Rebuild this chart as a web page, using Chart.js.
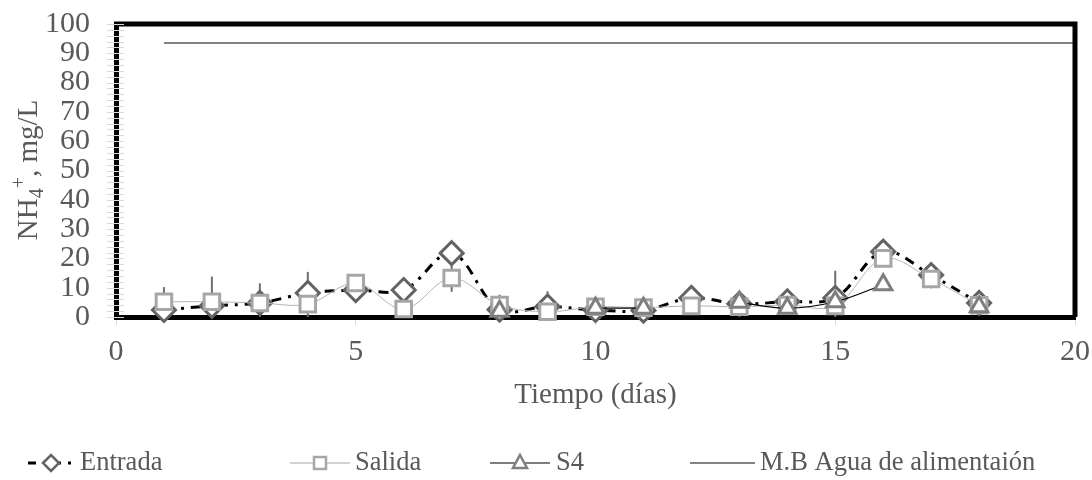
<!DOCTYPE html>
<html>
<head>
<meta charset="utf-8">
<script src="https://cdn.jsdelivr.net/npm/chart.js@4"></script>
<style>
  html, body { margin: 0; padding: 0; background: #fff; }
  #wrap { width: 1092px; height: 480px; }
</style>
</head>
<body>
<div id="wrap"><canvas id="nhChart" width="1092" height="480"></canvas></div>
<script>
// values (days 1..18)
const days = [1, 2, 3, 4, 5, 6, 7, 8, 9, 10, 11, 12, 13, 14, 15, 16, 17, 18];
const entrada = [2.4, 3.8, 4.8, 8.2, 9.2, 9.2, 21.8, 2.5, 3.6, 2.4, 2.2, 6.5, 4.5, 5.3, 6.5, 22.3, 14.3, 4.8];
const salida = [5.2, 5.2, 4.8, 4.4, 11.6, 2.7, 13.3, 4.1, 1.8, 3.5, 3.2, 3.8, 3.5, 4.1, 3.8, 20, 13, 4];
const salidaErr = [5, 8.6, 6.7, 11, null, null, 4.7, 3.5, 7, null, null, null, null, null, 12, null, null, null];
const s4 = [null, null, null, null, null, null, null, 2, null, 3, 3, null, 5, 3, 5.2, 11, null, 3.5];
const mbDays = [1, 20];
const mbValues = [93.5, 93.5];

const FONT = "'Liberation Serif', 'Times New Roman', serif";
const TEXT = '#595959';

function pts(xs, ys) {
    return xs.map((d, i) => ({ x: d, y: ys[i] }));
}

// small legend symbols
function legendMarker(ctx, type, cx, cy) {
    ctx.save();
    ctx.fillStyle = '#fff';
    ctx.lineWidth = 2.5;
    ctx.beginPath();
    if (type === 'diamond') {
        ctx.strokeStyle = '#636363';
        ctx.moveTo(cx - 8, cy); ctx.lineTo(cx, cy - 8); ctx.lineTo(cx + 8, cy); ctx.lineTo(cx, cy + 8);
    } else if (type === 'square') {
        ctx.strokeStyle = '#a6a6a6';
        ctx.rect(cx - 6, cy - 6, 12, 12);
    } else if (type === 'triangle') {
        ctx.strokeStyle = '#7f7f7f';
        ctx.moveTo(cx, cy - 8); ctx.lineTo(cx + 7, cy + 5); ctx.lineTo(cx - 7, cy + 5);
    }
    ctx.closePath();
    ctx.fill();
    ctx.stroke();
    ctx.restore();
}

const excelLook = {
    id: 'excelLook',
    beforeDatasetsDraw(chart) {
        // error bars on Salida, drawn under the markers
        const { ctx, scales: { x, y } } = chart;
        ctx.save();
        ctx.strokeStyle = '#6f6f6f';
        ctx.lineWidth = 2;
        days.forEach((d, i) => {
            const e = salidaErr[i];
            if (e == null) return;
            const px = x.getPixelForValue(d);
            ctx.beginPath();
            ctx.moveTo(px, y.getPixelForValue(salida[i] + e));
            ctx.lineTo(px, y.getPixelForValue(Math.max(0, salida[i] - e)));
            ctx.stroke();
        });
        ctx.restore();
    },
    afterDraw(chart) {
        const { ctx, chartArea: a, scales: { y } } = chart;
        ctx.save();

        // top and right frame
        ctx.strokeStyle = '#000';
        ctx.lineWidth = 5;
        ctx.beginPath();
        ctx.moveTo(a.left - 2, a.top);
        ctx.lineTo(a.right, a.top);
        ctx.lineTo(a.right, a.bottom);
        ctx.stroke();

        // minor ticks crossing the left axis
        ctx.strokeStyle = '#d9d9d9';
        ctx.lineWidth = 1;
        for (let v = y.min; v <= y.max; v += 2) {
            const py = Math.round(y.getPixelForValue(v)) + 0.5;
            ctx.beginPath();
            ctx.moveTo(a.left - 9, py);
            ctx.lineTo(a.left + 8, py);
            ctx.stroke();
        }

        // y axis title with sub/superscript
        ctx.fillStyle = TEXT;
        ctx.textBaseline = 'alphabetic';
        ctx.translate(37, 170);
        ctx.rotate(-Math.PI / 2);
        const big = '29px ' + FONT, small = '20px ' + FONT;
        ctx.font = big;
        const w1 = ctx.measureText('NH').width;
        const w3 = ctx.measureText(', mg/L').width;
        ctx.font = small;
        const w2a = ctx.measureText('4').width;
        const w2b = ctx.measureText('+').width;
        let tx = -(w1 + w2a + w2b + w3) / 2;
        ctx.font = big;
        ctx.fillText('NH', tx, 0); tx += w1;
        ctx.font = small;
        ctx.fillText('4', tx, 6); tx += w2a;
        ctx.fillText('+', tx, -12); tx += w2b;
        ctx.font = big;
        ctx.fillText(', mg/L', tx, 0);
        ctx.restore();

        // legend
        const ly = 463;
        const items = [
            { text: 'Entrada', x0: 28, x1: 74, tx: 80, color: '#000', width: 3, dash: [8, 7, 3, 7], marker: 'diamond' },
            { text: 'Salida', x0: 290, x1: 350, tx: 355, color: '#a6a6a6', width: 1, dash: [], marker: 'square' },
            { text: 'S4', x0: 490, x1: 550, tx: 556, color: '#000', width: 1.2, dash: [], marker: 'triangle' },
            { text: 'M.B Agua de alimentaión', x0: 690, x1: 755, tx: 760, color: '#595959', width: 1.5, dash: [], marker: null }
        ];
        ctx.save();
        items.forEach(it => {
            ctx.strokeStyle = it.color;
            ctx.lineWidth = it.width;
            ctx.setLineDash(it.dash);
            ctx.beginPath();
            ctx.moveTo(it.x0, ly);
            ctx.lineTo(it.x1, ly);
            ctx.stroke();
            ctx.setLineDash([]);
            if (it.marker) legendMarker(ctx, it.marker, (it.x0 + it.x1) / 2, ly);
            ctx.fillStyle = TEXT;
            ctx.font = '26.5px ' + FONT;
            ctx.textBaseline = 'middle';
            ctx.fillText(it.text, it.tx, ly);
        });
        ctx.restore();
    }
};

document.addEventListener('DOMContentLoaded', function() {
    const ctx = document.getElementById('nhChart').getContext('2d');

    new Chart(ctx, {
        type: 'line',
        data: {
            datasets: [{
                label: 'Entrada',
                data: pts(days, entrada),
                borderColor: '#000',
                borderWidth: 3,
                borderDash: [10, 7, 3, 7],
                tension: 0.35,
                pointStyle: 'rectRot',
                pointRadius: 11.5,
                pointBorderWidth: 3,
                pointBorderColor: '#636363',
                pointBackgroundColor: '#fff',
                clip: false,
                order: 4
            }, {
                label: 'Salida',
                data: pts(days, salida),
                borderColor: '#b3b3b3',
                borderWidth: 1,
                tension: 0.35,
                pointStyle: 'rect',
                pointRadius: 11,
                pointBorderWidth: 3,
                pointBorderColor: '#a6a6a6',
                pointBackgroundColor: '#fff',
                clip: false,
                order: 3
            }, {
                label: 'S4',
                data: pts(days, s4),
                borderColor: '#000',
                borderWidth: 1.2,
                tension: 0.35,
                spanGaps: false,
                pointStyle: 'triangle',
                pointRadius: 10,
                pointBorderWidth: 3,
                pointBorderColor: '#7f7f7f',
                pointBackgroundColor: '#fff',
                clip: false,
                order: 2
            }, {
                label: 'M.B Agua de alimentaión',
                data: pts(mbDays, mbValues),
                borderColor: '#595959',
                borderWidth: 1.5,
                pointRadius: 0,
                order: 1
            }]
        },
        options: {
            responsive: false,
            animation: false,
            layout: { padding: { left: 0, right: 17, top: 24, bottom: 63 } },
            plugins: {
                legend: { display: false },
                tooltip: { enabled: false }
            },
            scales: {
                x: {
                    type: 'linear',
                    min: 0,
                    max: 20,
                    ticks: { stepSize: 5, color: TEXT, font: { family: FONT, size: 30 }, padding: 9 },
                    grid: { drawOnChartArea: false, color: '#d9d9d9', tickLength: 8 },
                    border: { color: '#000', width: 5 },
                    title: { display: true, text: 'Tiempo (días)', color: TEXT, font: { family: FONT, size: 29 }, padding: { top: 4, bottom: 4 } },
                    afterFit(scale) {
                        scale.height = 100;
                        scale.paddingLeft = 0;
                        scale.paddingRight = 0;
                    }
                },
                y: {
                    min: 0,
                    max: 100,
                    ticks: { stepSize: 10, autoSkip: false, color: TEXT, font: { family: FONT, size: 30 }, padding: 26 },
                    grid: { display: false, drawTicks: false },
                    border: { color: '#000', width: 5 },
                    afterFit(scale) {
                        scale.width = 116;
                        scale.paddingTop = 0;
                        scale.paddingBottom = 0;
                    }
                }
            }
        },
        plugins: [excelLook]
    });
});
</script>
</body>
</html>
